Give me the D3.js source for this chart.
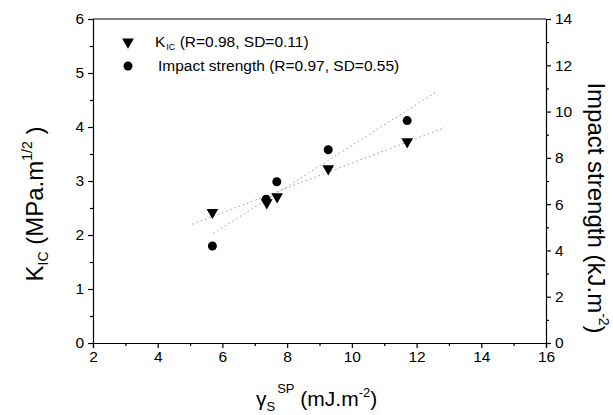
<!DOCTYPE html>
<html>
<head>
<meta charset="utf-8">
<style>
  body { margin: 0; background: #fff; }
  text { font-family: "Liberation Sans", Arial, sans-serif; }
</style>
</head>
<body>
<script src="https://d3js.org/d3.v7.min.js"></script>
<script>
// data
const gamma = [5.69, 7.37, 7.69, 9.27, 11.71];
const kic = [2.42, 2.60, 2.71, 3.23, 3.73];
const gammaImpact = [5.69, 7.35, 7.68, 9.27, 11.71];
const impact = [4.19, 6.21, 6.97, 8.35, 9.61];

// fitted lines, end points as drawn
const fitKicX = [5.07, 12.88];
const fitKicY = [2.20, 3.99];
const fitImpX = [5.72, 12.62];
const fitImpY = [4.74, 10.86];

const xTicks = [2, 4, 6, 8, 10, 12, 14, 16];
const yTicks = [0, 1, 2, 3, 4, 5, 6];
const y2Ticks = [0, 2, 4, 6, 8, 10, 12, 14];

const width = 613, height = 415;
const margin = {top: 19, right: 67, bottom: 72, left: 93};
const w = width - margin.left - margin.right;
const h = height - margin.top - margin.bottom;

const svg = d3.select("body").append("svg")
    .attr("width", width)
    .attr("height", height);

const x = d3.scaleLinear().domain([2, 16]).range([0, w]);
const y = d3.scaleLinear().domain([0, 6]).range([h, 0]);
const y2 = d3.scaleLinear().domain([0, 14]).range([h, 0]);

const g = svg.append("g").attr("transform", `translate(${margin.left},${margin.top})`);

// minor ticks
function minor(axis, sel, ticks, len) {
    sel.call(axis.tickValues(ticks).tickSize(len).tickFormat(""))
        .call(s => s.select(".domain").remove());
}
const gxm = g.append("g").attr("transform", `translate(0,${h})`);
minor(d3.axisBottom(x), gxm, d3.range(3, 16, 2), 3);
const gym = g.append("g");
minor(d3.axisLeft(y), gym, d3.range(0.5, 6, 1), 3);
const gy2m = g.append("g").attr("transform", `translate(${w},0)`);
minor(d3.axisRight(y2), gy2m, d3.range(1, 14, 2), 3);

// major axes
const fmt = d3.format("d");
g.append("g").attr("transform", `translate(0,${h})`)
    .call(d3.axisBottom(x).tickValues(xTicks).tickFormat(fmt).tickSize(5).tickPadding(3));
g.append("g")
    .call(d3.axisLeft(y).tickValues(yTicks).tickFormat(fmt).tickSize(5).tickPadding(4));
g.append("g").attr("transform", `translate(${w},0)`)
    .call(d3.axisRight(y2).tickValues(y2Ticks).tickFormat(fmt).tickSize(5).tickPadding(4));

g.append("line").attr("x1", 0).attr("x2", w).attr("y1", 0).attr("y2", 0)
    .attr("stroke", "#000").attr("stroke-width", 1.2);

svg.selectAll(".tick text").attr("font-size", 15.5).attr("fill", "#000")
    .attr("font-family", "Liberation Sans, Arial, sans-serif");
svg.selectAll(".domain, .tick line").attr("stroke", "#000").attr("stroke-width", 1.2);

// fit lines
const line = d3.line().x(d => x(d[0])).y(d => d[1]);
g.append("path")
    .attr("d", line(fitKicX.map((v, i) => [v, y(fitKicY[i])])))
    .attr("fill", "none").attr("stroke", "#999").attr("stroke-width", 1)
    .attr("stroke-dasharray", "1.5,3");
g.append("path")
    .attr("d", line(fitImpX.map((v, i) => [v, y2(fitImpY[i])])))
    .attr("fill", "none").attr("stroke", "#999").attr("stroke-width", 1)
    .attr("stroke-dasharray", "1.5,3");

// markers
const tri = d3.symbol().type(d3.symbolTriangle).size(60)();
g.selectAll(".kic").data(gamma).join("path")
    .attr("class", "kic")
    .attr("d", tri)
    .attr("transform", (d, i) => `translate(${x(d)},${y(kic[i])}) rotate(180)`)
    .attr("fill", "#000");
g.selectAll(".imp").data(gammaImpact).join("circle")
    .attr("class", "imp")
    .attr("cx", d => x(d))
    .attr("cy", (d, i) => y2(impact[i]))
    .attr("r", 4.5)
    .attr("fill", "#000");

// legend
const leg = svg.append("g").attr("transform", "translate(128,0)");
leg.append("path").attr("d", tri).attr("transform", "translate(0,42) rotate(180)").attr("fill", "#000");
leg.append("circle").attr("cx", 0).attr("cy", 66).attr("r", 4.5).attr("fill", "#000");
const t1 = leg.append("text").attr("x", 27).attr("y", 47).attr("font-size", 15.5);
t1.append("tspan").text("K");
t1.append("tspan").attr("font-size", 9).attr("dy", 3).attr("dx", 1).text("IC");
t1.append("tspan").attr("dy", -3).text(" (R=0.98, SD=0.11)");
leg.append("text").attr("x", 30).attr("y", 71).attr("font-size", 15.5)
    .text("Impact strength (R=0.97, SD=0.55)");

// axis titles
const xt = svg.append("text").attr("x", 256).attr("y", 406).attr("font-size", 21);
xt.append("tspan").text("γ");
xt.append("tspan").attr("font-size", 13).attr("dy", 5).text("S");
xt.append("tspan").attr("font-size", 13).attr("dy", -18).attr("dx", 2).text("SP");
xt.append("tspan").attr("dy", 13).text(" (mJ.m");
xt.append("tspan").attr("font-size", 13).attr("dy", -9).text("-2");
xt.append("tspan").attr("dy", 9).text(")");

const yt = svg.append("text").attr("transform", "translate(43,204) rotate(-90)")
    .attr("text-anchor", "middle").attr("font-size", 24);
yt.append("tspan").text("K");
yt.append("tspan").attr("font-size", 14).attr("dy", 5).text("IC");
yt.append("tspan").attr("dy", -5).text(" (MPa.m");
yt.append("tspan").attr("font-size", 14).attr("dy", -11).text("1/2");
yt.append("tspan").attr("dy", 11).text(" )");

const y2t = svg.append("text").attr("transform", "translate(588,208) rotate(90)")
    .attr("text-anchor", "middle").attr("font-size", 24);
y2t.append("tspan").text("Impact strength (kJ.m");
y2t.append("tspan").attr("font-size", 14).attr("dy", -11).text("-2");
y2t.append("tspan").attr("dy", 11).text(")");
</script>
</body>
</html>
